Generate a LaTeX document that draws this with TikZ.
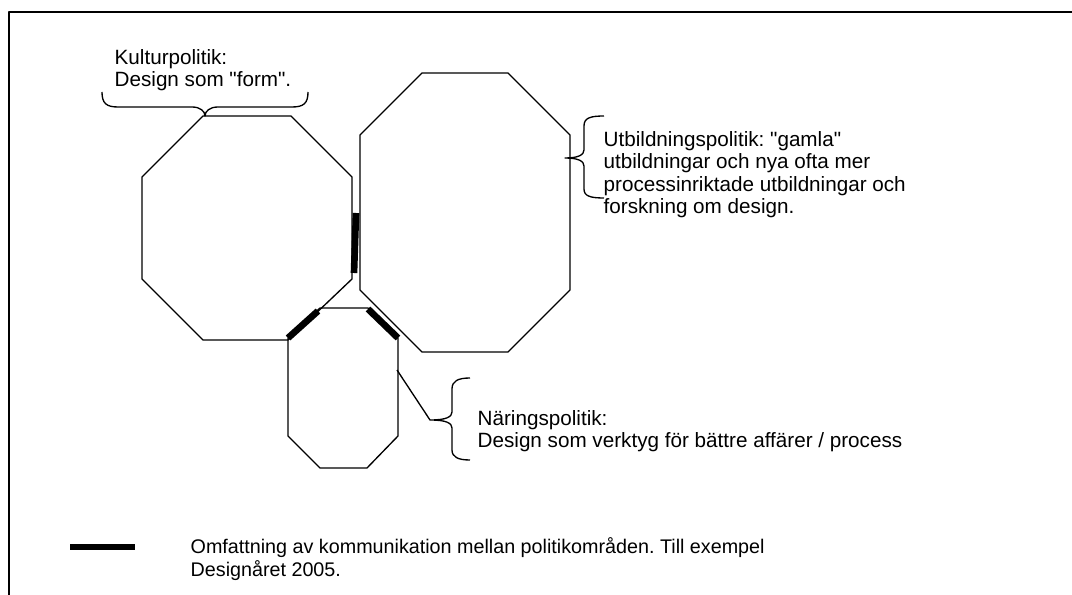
\documentclass[tikz,border=0pt]{standalone}
\usepackage{fontspec}
\newfontfamily\arial{Liberation Sans}
\usepackage{tikz}
\tikzset{l/.style={font=\arial\fontsize{15.5}{16.9}\selectfont,align=left,inner sep=0pt,anchor=base west}}
\tikzset{k/.style={line width=5pt}}
\frenchspacing
\begin{document}
\begin{tikzpicture}[line join=round,x=0.75pt,y=-0.75pt,line width=1pt]
            \useasboundingbox (0,0) rectangle (1072,595);
            \draw[line width=1.5pt] (9,600)--(9,12)--(1080,12);
            \draw (203,116)--(291,116)--(352,177)--(352,279)--(288,340)--(203,340)--(142,279)--(142,177)--cycle;
            \draw (422,73)--(508,73)--(570,135)--(570,290)--(508,352)--(422,352)--(360,290)--(360,135)--cycle;
            \draw (320,308)--(368,308)--(398,338)--(398,436)--(367,468)--(320,468)--(288,436)--(288,338)--cycle;
            \draw[k] (356,213)--(354,273);
            \draw[k] (288,338)--(318,311);
            \draw[k] (368,309)--(398,338);
            \draw (102,92) .. controls (102,103) and (106,107) .. (118,107) -- (192,107) .. controls (200,107) and (205,111) .. (205,116) .. controls (205,111) and (210,107) .. (218,107) -- (292,107) .. controls (304,107) and (308,103) .. (308,92);
            \draw (604,116) .. controls (590,116) and (584,118) .. (584,126) -- (584,150) .. controls (584,155) and (578,158) .. (565,158) .. controls (578,158) and (584,161) .. (584,166) -- (584,189) .. controls (584,196) and (590,198) .. (604,198);
            \draw (470,378) .. controls (458,378) and (452,381) .. (452,389) -- (452,412) .. controls (452,417) and (446,420) .. (430,420) .. controls (446,420) and (452,423) .. (452,428) -- (452,450) .. controls (452,457) and (458,460) .. (470,460);
            \coordinate (N) at (397,370);
            \coordinate (Nt) at (430,420);
            \draw (N)--(Nt);
            \node[l] (kult) at (114,87) {Kulturpolitik:\\Design som "form".};
            \node[l] (utb) at (603,214) {Utbildningspolitik: "gamla"\\utbildningar och nya ofta mer\\processinriktade utbildningar och\\forskning om design.};
            \node[l] (nar) at (477,448) {Näringspolitik:\\Design som verktyg för bättre affärer / process};
            \coordinate (L1) at (70,547);
            \coordinate (L2) at (135,547);
            \draw[line width=5pt] (L1)--(L2);
            \node[l,font=\arial\fontsize{14.8}{16.9}\selectfont] (omf) at (190,576) {Omfattning av kommunikation mellan politikområden. Till exempel\\Designåret 2005.};
          \end{tikzpicture}
\end{document}
